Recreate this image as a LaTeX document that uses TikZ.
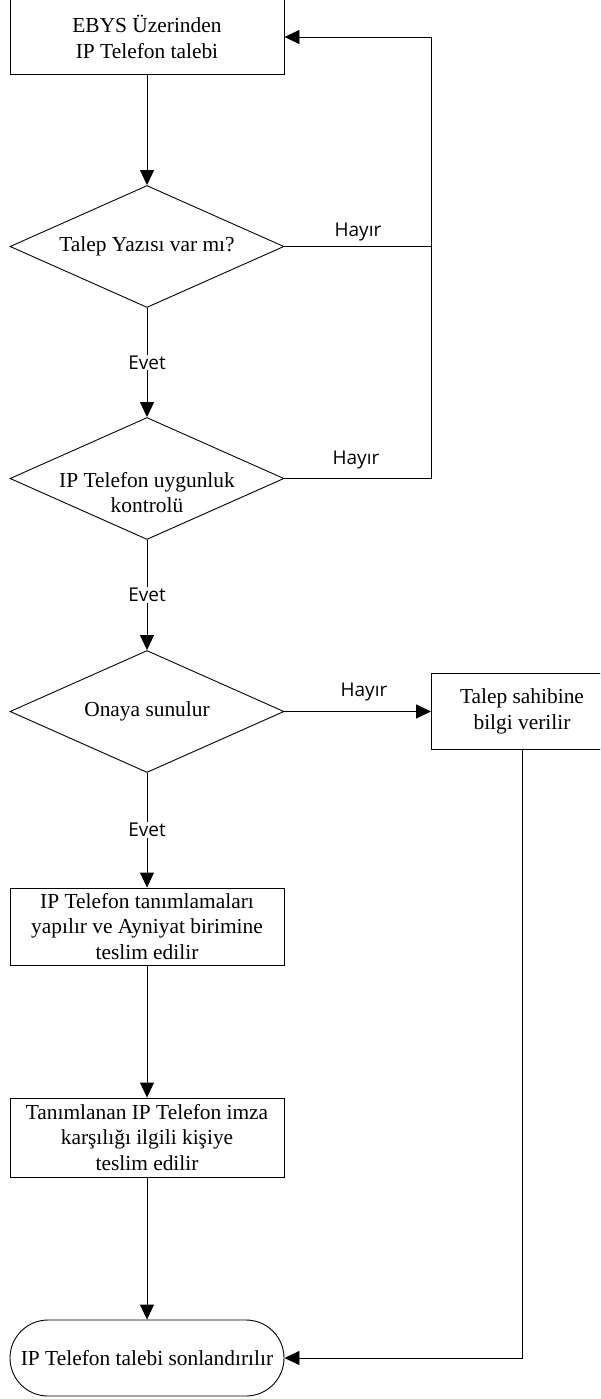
\documentclass[tikz,border=0pt]{standalone}
\usepackage{fontspec}
\setmainfont{Liberation Serif}
\newfontfamily\lblfont{Open Sans}
\usetikzlibrary{arrows.meta,shapes.geometric}
\begin{document}
\begin{tikzpicture}[x=1pt,y=-1pt,
  line width=0.9pt,
  proc/.style={draw, rectangle, minimum width=274pt, inner sep=0pt, align=center, font=\fontsize{21.4}{25.5}\selectfont},
  dec/.style={draw, diamond, minimum width=274pt, minimum height=122pt, inner sep=0pt},
  txt/.style={align=center, inner sep=0pt, font=\fontsize{21.4}{25.5}\selectfont},
  lbl/.style={font=\lblfont\fontsize{19}{22}\selectfont, inner sep=1pt},
  arr/.style={-{Triangle[length=15pt,width=14pt]}}]
\clip (0,0) rectangle (600,1399);
\fill[white] (0,0) rectangle (600,1399);

\node[proc, minimum height=75pt] (b1) at (147,37) {EBYS Üzerinden\\IP Telefon talebi};
\node[dec] (d1) at (147,246.5) {};
\node[txt] (t1) at (147,246.5) {Talep Yazısı var mı?};
\node[dec] (d2) at (147,478.5) {};
\node[txt] (t2) at (147,492.5) {IP Telefon uygunluk\\kontrolü};
\node[dec] (d3) at (147,711.5) {};
\node[txt] (t3) at (147,711.5) {Onaya sunulur};
\node[proc, minimum width=181pt, minimum height=76pt] (b2) at (522,711.5) {Talep sahibine\\bilgi verilir};
\node[proc, minimum height=77pt] (b3) at (147,926.5) {IP Telefon tanımlamaları\\yapılır ve Ayniyat birimine\\teslim edilir};
\node[proc, minimum height=79pt] (b4) at (147,1137.5) {Tanımlanan IP Telefon imza\\karşılığı ilgili kişiye\\teslim edilir};
\node[proc, rounded corners=38pt, minimum height=76pt] (end) at (147,1358) {IP Telefon talebi sonlandırılır};

\coordinate (ret) at (431.5,37);

\draw[arr] (b1.south) -- (d1.north);
\draw (d1.east) -- (d1.east -| ret);
\draw[arr] (d2.east) -| (ret) -- (b1.east);
\draw[arr] (d1.south) -- node[lbl,fill=white] (e1) {Evet} (d2.north);
\draw[arr] (d2.south) -- node[lbl,fill=white] (e2) {Evet} (d3.north);
\draw[arr] (d3.south) -- node[lbl,fill=white] (e3) {Evet} (b3.north);
\draw[arr] (d3.east) -- (b2.west);
\draw[arr] (b2.south) |- (end.east);
\draw[arr] (b3.south) -- (b4.north);
\draw[arr] (b4.south) -- (end.north);

\node[lbl] (h1) at (358,232) {Hayır};
\node[lbl] (h2) at (356,460) {Hayır};
\node[lbl] (h3) at (364,692) {Hayır};
\end{tikzpicture}
\end{document}
